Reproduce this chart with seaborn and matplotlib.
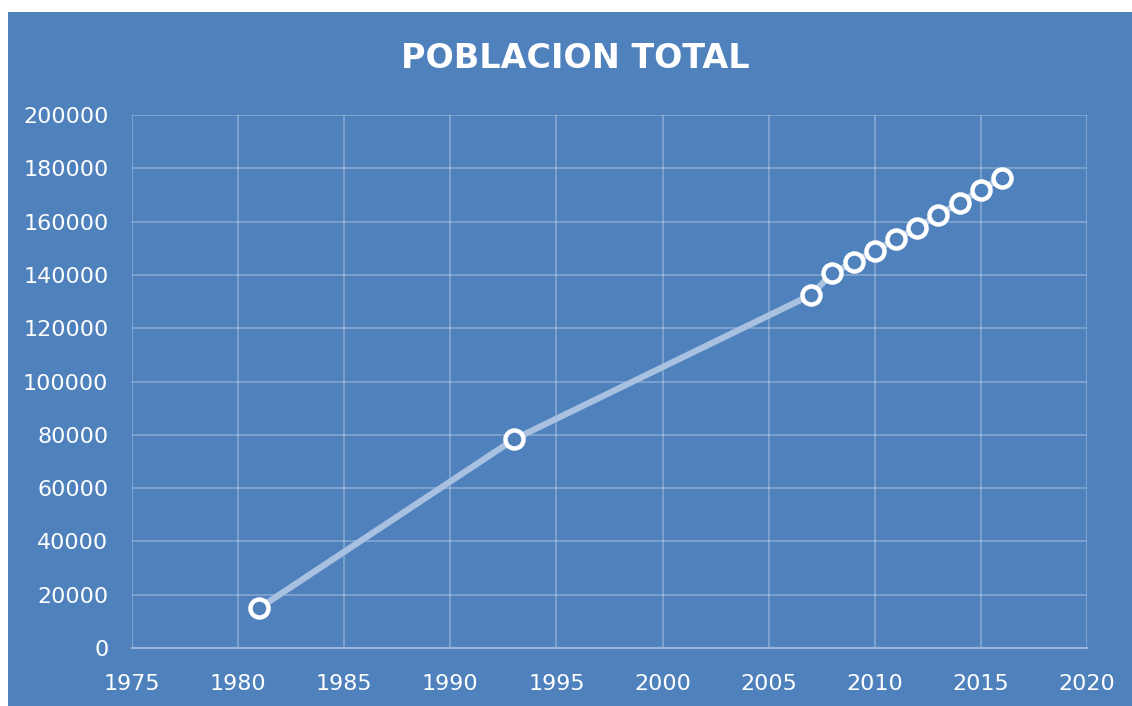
import matplotlib
matplotlib.use("Agg")
import matplotlib.pyplot as plt
import seaborn as sns
import pandas as pd
from matplotlib.patches import Rectangle

years = [1981, 1993, 2007, 2008, 2009, 2010, 2011, 2012, 2013, 2014, 2015, 2016]
population = [15000, 78300, 132500, 140600, 144700, 149100, 153400, 157700, 162500, 167100, 171900, 176500]
x_ticks = [1975, 1980, 1985, 1990, 1995, 2000, 2005, 2010, 2015, 2020]
y_ticks = [0, 20000, 40000, 60000, 80000, 100000, 120000, 140000, 160000, 180000, 200000]
title = "POBLACION TOTAL"

df = pd.DataFrame({"year": years, "population": population})

sns.set_theme(style="white")
plt.rcParams['font.family'] = ['DejaVu Sans']

BG = "#4F81BD"
fig = plt.figure(figsize=(11.32, 7.06), dpi=100)
fig.patch.set_facecolor("white")
bg = Rectangle((8/1132, 0), 1 - 8/1132, (706-12)/706,
               transform=fig.transFigure, facecolor=BG,
               edgecolor="none", zorder=-10)
fig.patches.append(bg)

ax = fig.add_axes([132/1132, (706-648)/706, (1087-132)/1132, (648-115)/706])
ax.set_facecolor("none")

sns.lineplot(data=df, x="year", y="population", ax=ax, color="#A9C1E0",
             linewidth=4.5, marker="o", markersize=13,
             markerfacecolor=BG, markeredgecolor="white", markeredgewidth=3.2,
             zorder=3)

ax.set_xlim(1975, 2020)
ax.set_ylim(0, 200000)
ax.set_xticks(x_ticks)
ax.set_yticks(y_ticks)
ax.set_xticklabels([str(t) for t in x_ticks])
ax.set_yticklabels([str(t) for t in y_ticks])
ax.grid(True, color="white", alpha=0.3, linewidth=1.2)
ax.set_axisbelow(True)
for s in ["top", "right", "left"]:
    ax.spines[s].set_visible(False)
ax.spines["bottom"].set_color("#9DB5D8")
ax.spines["bottom"].set_linewidth(1.5)
ax.tick_params(axis="both", colors="white", labelsize=16, length=0)
ax.tick_params(axis="y", pad=17)
ax.tick_params(axis="x", pad=19)
ax.set_xlabel("")
ax.set_ylabel("")

fig.text(575/1132, 1 - 59/706, title, color="white", fontsize=24,
         fontweight="bold", ha="center", va="center", family="DejaVu Sans")

fig.savefig("out.png", dpi=100)
